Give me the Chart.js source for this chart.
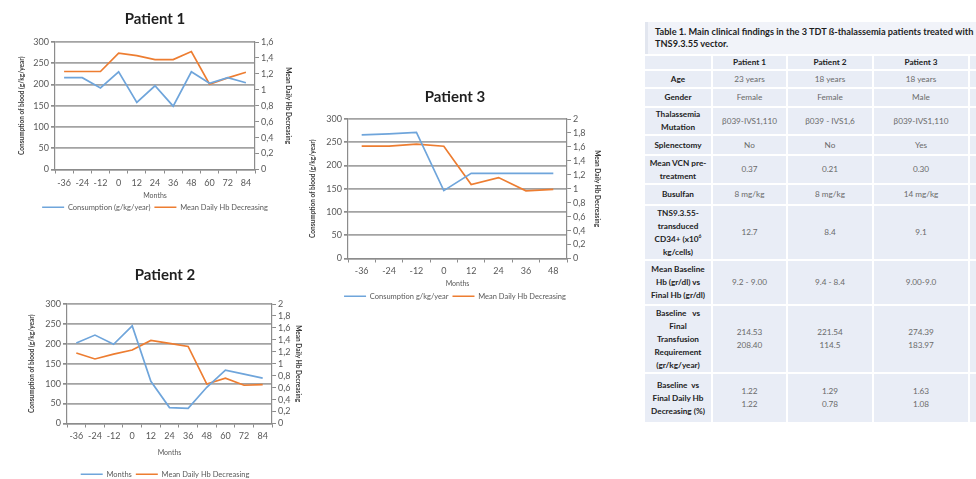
<!DOCTYPE html>
<html>
<head>
<meta charset="utf-8">
<script src="https://cdn.jsdelivr.net/npm/chart.js@4.4.0/dist/chart.umd.min.js"></script>
<style>
    html, body { margin:0; padding:0; background:#fff; width:976px; height:479px; overflow:hidden; position:relative; }
    canvas { position:absolute; }
    #grafico1 { left:0; top:4px; }
    #grafico2 { left:0; top:262px; }
    #grafico3 { left:300px; top:84px; }

    #tabela { position:absolute; left:645px; top:22px; width:360px; font-family:Lato, "Open Sans", sans-serif; }
    .titulo-tab { background:#f1f3f9; border-left:3px solid #e2e6ef; height:32px; box-sizing:border-box;
        padding:4px 0 0 7px; font-weight:bold; font-size:9.2px; line-height:12px; color:#1e1e1e; width:340px; white-space:nowrap; }
    table { border-collapse:separate; border-spacing:2px; margin:0 0 0 -2px; table-layout:fixed; }
    td { background:#e9edf6; text-align:center; vertical-align:middle; font-size:8.2px; line-height:13px; color:#6a6a6a; padding:0; overflow:hidden; white-space:nowrap; }
    td.rot, tr.cab td { font-weight:bold; color:#222; }
</style>
</head>
<body>

<canvas id="grafico1" width="308" height="221"></canvas>
<canvas id="grafico2" width="306" height="226"></canvas>
<canvas id="grafico3" width="312" height="226"></canvas>

<div id="tabela">
    <div class="titulo-tab">Table 1. Main clinical findings in the 3 TDT ß-thalassemia patients treated with<br>TNS9.3.55 vector.</div>
    <table>
        <colgroup><col style="width:66px"><col style="width:73px"><col style="width:84px"><col style="width:94px"><col style="width:30px"></colgroup>
        <tbody id="corpoTabela"></tbody>
    </table>
</div>

<script>
// =========================
// DADOS
// =========================

const meses1 = ["-36", "-24", "-12", "0", "12", "24", "36", "48", "60", "72", "84"];
const consumo1 = [216, 216, 192, 230, 158, 197, 149, 230, 203, 216, 204];
const hb1 = [1.23, 1.23, 1.23, 1.46, 1.43, 1.38, 1.38, 1.48, 1.07, 1.15, 1.22];

const meses2 = ["-36", "-24", "-12", "0", "12", "24", "36", "48", "60", "72", "84"];
const consumo2 = [202, 222, 199, 245, 106, 40, 38, 91, 134, 124, 114];
const hb2 = [1.18, 1.08, 1.16, 1.23, 1.39, 1.34, 1.29, 0.66, 0.76, 0.64, 0.65];

const meses3 = ["-36", "-24", "-12", "0", "12", "24", "36", "48"];
const consumo3 = [266, 268, 271, 146, 183, 183, 183, 183];
const hb3 = [1.61, 1.61, 1.64, 1.61, 1.06, 1.16, 0.97, 0.99];

const limiteConsumo = [0, 300, 50];
const limiteHb1 = [0, 1.6, 0.2];
const limiteHb2 = [0, 2, 0.2];

const linhasTabela = [
    ["", "Patient 1", "Patient 2", "Patient 3", ""],
    ["Age", "23 years", "18 years", "18 years", ""],
    ["Gender", "Female", "Female", "Male", ""],
    ["Thalassemia<br>Mutation", "β039-IVS1,110", "β039 - IVS1,6", "β039-IVS1,110", ""],
    ["Splenectomy", "No", "No", "Yes", ""],
    ["Mean VCN pre-<br>treatment", "0.37", "0.21", "0.30", ""],
    ["Busulfan", "8 mg/kg", "8 mg/kg", "14 mg/kg", ""],
    ["TNS9.3.55-<br>transduced<br>CD34+ (x10<sup style='font-size:5px;line-height:0'>6</sup><br>kg/cells)", "12.7", "8.4", "9.1", ""],
    ["Mean Baseline<br>Hb (gr/dl) vs<br>Final Hb (gr/dl)", "9.2 - 9.00", "9.4 - 8.4", "9.00-9.0", ""],
    ["Baseline &nbsp; vs<br>Final<br>Transfusion<br>Requirement<br>(gr/kg/year)", "214.53<br>208.40", "221.54<br>114.5", "274.39<br>183.97", ""],
    ["Baseline &nbsp;vs<br>Final Daily Hb<br>Decreasing (%)", "1.22<br>1.22", "1.29<br>0.78", "1.63<br>1.08", ""]
];
const alturasTabela = [13, 16, 17, 26, 18, 27, 19, 53, 43, 66, 48];


// =========================
// CONFIG GERAL
// =========================

Chart.defaults.font.family = "Lato, 'Open Sans', sans-serif";
Chart.defaults.color = "#595959";
Chart.defaults.animation = false;
Chart.defaults.devicePixelRatio = 1;

const corAzul = "#6fa5db";
const corLaranja = "#ed7d31";
const corGrade = "#a3a3a3";
const corEixo = "#8c8c8c";


function formatarVirgula(v) {

    const r = Math.round(v * 10) / 10;

    return r.toString().replace(".", ",");

}


// =========================
// GRÁFICOS
// =========================

function criarGrafico(id, titulo, meses, consumo, hb, limiteHb, rotuloConsumo, m) {

    new Chart(document.getElementById(id), {

        type: "line",

        data: {

            labels: meses,

            datasets: [{
                label: rotuloConsumo,
                data: consumo,
                borderColor: corAzul,
                backgroundColor: corAzul,
                borderWidth: 1.7,
                pointRadius: 0,
                yAxisID: "y"
            }, {
                label: "Mean Daily Hb Decreasing",
                data: hb,
                borderColor: corLaranja,
                backgroundColor: corLaranja,
                borderWidth: 1.7,
                pointRadius: 0,
                yAxisID: "y1"
            }]

        },

        options: {

            responsive: false,

            layout: {
                padding: { left: m.margemEsq, right: m.margemDir, top: 0, bottom: m.baixo }
            },

            plugins: {

                title: {
                    display: true,
                    text: titulo,
                    color: "#1f1f1f",
                    font: { size: 15, weight: "bold" },
                    padding: { top: m.tituloTopo, bottom: m.tituloBaixo }
                },

                legend: {
                    position: "bottom",
                    labels: {
                        usePointStyle: true,
                        pointStyle: "line",
                        pointStyleWidth: 22,
                        font: { size: 7.5 },
                        padding: 4,
                        color: "#595959"
                    }
                },

                tooltip: { enabled: false }

            },

            scales: {

                x: {
                    offset: true,
                    grid: {
                        offset: true,
                        drawOnChartArea: false,
                        color: corEixo,
                        tickLength: 4
                    },
                    border: { color: corEixo, width: 1.2 },
                    ticks: { font: { size: 9 }, maxRotation: 0, autoSkip: false, padding: m.padX },
                    title: {
                        display: true,
                        text: "Months",
                        font: { size: 7 },
                        padding: { top: 2, bottom: m.mesesBaixo }
                    },
                    afterFit: (escala) => { escala.height = m.alturaX; }
                },

                y: {
                    position: "left",
                    min: limiteConsumo[0],
                    max: limiteConsumo[1],
                    ticks: { stepSize: limiteConsumo[2], font: { size: 9 }, padding: 2, autoSkip: false },
                    grid: { color: corGrade, lineWidth: 1.7, tickColor: corEixo, tickLength: 4 },
                    border: { color: corEixo, width: 1.2 },
                    title: {
                        display: true,
                        text: "Consumption of blood (g/kg/year)",
                        color: "#3a3a3a",
                        font: { size: 6.5, weight: "bold" },
                        padding: 0
                    },
                    afterFit: (escala) => { escala.width = m.esquerda; }
                },

                y1: {
                    position: "right",
                    min: limiteHb[0],
                    max: limiteHb[1],
                    ticks: {
                        stepSize: limiteHb[2],
                        font: { size: 9 },
                        padding: 2,
                        autoSkip: false,
                        callback: (v) => formatarVirgula(v)
                    },
                    grid: { drawOnChartArea: false, color: corEixo, tickLength: 4 },
                    border: { color: corEixo, width: 1.2 },
                    title: {
                        display: true,
                        text: "Mean Daily Hb Decreasing",
                        color: "#3a3a3a",
                        font: { size: 6.5, weight: "bold" },
                        padding: 0
                    },
                    afterFit: (escala) => { escala.width = m.direita; }
                }

            }

        }

    });

}


criarGrafico("grafico1", "Patient 1", meses1, consumo1, hb1, limiteHb1, "Consumption (g/kg/year)",
    { margemEsq: 18, esquerda: 37, direita: 37, margemDir: 16, tituloTopo: 6, tituloBaixo: 14,
      alturaX: 30, padX: 4, mesesBaixo: 0, baixo: 4 });

criarGrafico("grafico2", "Patient 2", meses2, consumo2, hb2, limiteHb2, "Months",
    { margemEsq: 28, esquerda: 39, direita: 30, margemDir: 4, tituloTopo: 4, tituloBaixo: 20,
      alturaX: 43, padX: 3, mesesBaixo: 10, baixo: 0 });

criarGrafico("grafico3", "Patient 3", meses3, consumo3, hb3, limiteHb2, "Consumption g/kg/year",
    { margemEsq: 9, esquerda: 39, direita: 34, margemDir: 11, tituloTopo: 4, tituloBaixo: 13,
      alturaX: 30, padX: 3, mesesBaixo: 1, baixo: 0 });


// =========================
// TABELA
// =========================

function preencherTabela() {

    const tbody = document.getElementById("corpoTabela");

    linhasTabela.forEach((linha, i) => {

        let html = `<tr class="${i === 0 ? "cab" : ""}">`;

        linha.forEach((celula, j) => {
            html += `<td class="${j === 0 ? "rot" : ""}" style="height:${alturasTabela[i]}px">${celula}</td>`;
        });

        tbody.innerHTML += html + "</tr>";

    });

}

preencherTabela();
</script>
</body>
</html>
